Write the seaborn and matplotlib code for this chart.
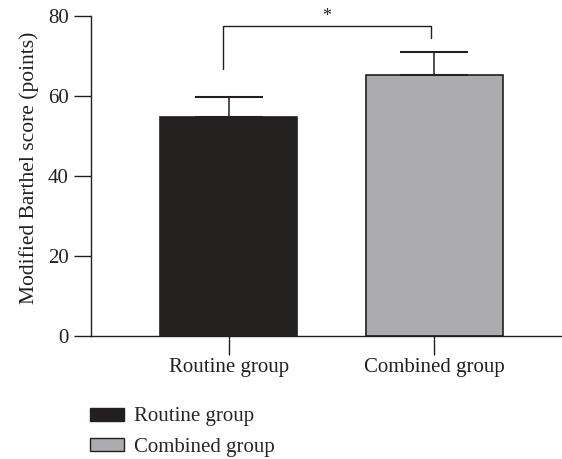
import numpy as np
import pandas as pd
import matplotlib
matplotlib.use("Agg")
import matplotlib.pyplot as plt
import seaborn as sns
from matplotlib.patches import Patch

# Datos
grupos = ["Routine group", "Combined group"]
medias = [54.7, 65.1]
desviaciones = [5.0, 5.9]
colores = ["#231f20", "#abacaf"]
ticks_y = [0, 20, 40, 60, 80]

df = pd.DataFrame({"Grupo": grupos, "Puntuacion": medias})

sns.set_style("ticks")
plt.rcParams["font.family"] = ["Liberation Serif", "DejaVu Serif"]
plt.rcParams["font.size"] = 15

fig = plt.figure(figsize=(5.62, 4.59), dpi=100)
ax = fig.add_axes([0.162, 0.269, 0.838, 0.697])

sns.barplot(data=df, x="Grupo", y="Puntuacion", hue="Grupo", palette=colores,
            width=0.665, edgecolor="#231f20", linewidth=1.2, legend=False, ax=ax)

# Barras de error solo hacia arriba
ax.errorbar(range(len(grupos)), medias, yerr=[[0] * len(grupos), desviaciones],
            fmt="none", ecolor="#231f20", elinewidth=1.1, capsize=24.5, capthick=1.5)

# Corchete de significación
ax.plot([-0.03, -0.03, 0.984, 0.984], [66.6, 77.4, 77.4, 74.4], color="#231f20", lw=1)
ax.text(0.476, 77.6, "*", ha="center", va="bottom", fontsize=13, color="#231f20")

ax.set_xlim(-0.67, 1.62)
ax.set_ylim(0, 80)
ax.set_yticks(ticks_y)
ax.set_xlabel("")
ax.set_ylabel("Modified Barthel score (points)", fontsize=15.5, color="#231f20")
ax.yaxis.set_label_coords(-0.111, 0.524)
ax.tick_params(axis="y", length=12, width=1, colors="#231f20", labelsize=15, pad=4)
ax.tick_params(axis="x", length=13.5, width=1, colors="#231f20", labelsize=15, pad=3)
for lado in ["top", "right"]:
    ax.spines[lado].set_visible(False)
for lado in ["left", "bottom"]:
    ax.spines[lado].set_color("#231f20")
    ax.spines[lado].set_linewidth(1)

manijas = [Patch(facecolor=c, edgecolor="#231f20", linewidth=1) for c in colores]
fig.legend(manijas, grupos, loc="upper left", bbox_to_anchor=(0.134, 0.144),
           frameon=False, fontsize=15, handlelength=1.63, handleheight=0.58,
           handletextpad=0.48, labelspacing=0.56, borderpad=0.2)

fig.savefig("out.png", dpi=100)
